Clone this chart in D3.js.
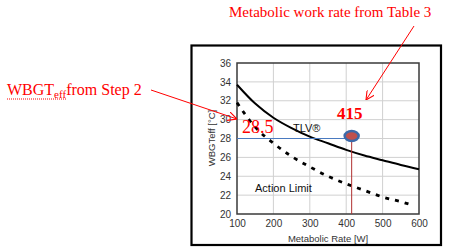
<!DOCTYPE html>
<html lang="en">
<head>
<meta charset="UTF-8">
<title>WBGT chart</title>
<style>
  body { margin: 0; background: #fff; }
  svg { display: block; }
</style>
</head>
<body>
<div id="chart"></div>
<script src="https://d3js.org/d3.v7.min.js"></script>
<script>
// data
var tlvRate = [100, 150, 200, 250, 300, 350, 400, 450, 500, 550, 600];
var tlvTemp = [33.7, 31.7, 30.2, 29.1, 28.2, 27.5, 26.8, 26.2, 25.7, 25.2, 24.75];
var alRate = [100, 150, 200, 250, 300, 350, 400, 450, 500, 550, 585];
var alTemp = [31.8, 29.2, 27.5, 26.1, 25.0, 24.0, 23.2, 22.5, 21.8, 21.3, 20.9];
var xTicks = [100, 200, 300, 400, 500, 600];
var yTicks = [20, 22, 24, 26, 28, 30, 32, 34, 36];
var workRate = 415;
var wbgtEff = 28.5;
var wbgtLine = 28;

var W = 449, H = 250;
var plot = {left: 237, right: 419, top: 63, bottom: 214};

var svg = d3.select("#chart").append("svg")
    .attr("width", W).attr("height", H);

var x = d3.scaleLinear().domain([100, 600]).range([plot.left, plot.right]);
var y = d3.scaleLinear().domain([20, 36]).range([plot.bottom, plot.top]);

// outer frame
svg.append("rect")
    .attr("x", 191.5).attr("y", 45.5)
    .attr("width", 249.5).attr("height", 199.5)
    .attr("fill", "none").attr("stroke", "#000").attr("stroke-width", 2.2);

// grid
svg.append("g").selectAll("line").data(xTicks.slice(1, -1)).enter()
    .append("line")
    .attr("x1", d => x(d)).attr("x2", d => x(d))
    .attr("y1", plot.top).attr("y2", plot.bottom)
    .attr("stroke", "#d0d0d0");
svg.append("g").selectAll("line").data(yTicks.slice(1, -1)).enter()
    .append("line")
    .attr("x1", plot.left).attr("x2", plot.right)
    .attr("y1", d => y(d)).attr("y2", d => y(d))
    .attr("stroke", "#d0d0d0");

// axes
var xAxis = svg.append("g")
    .attr("transform", "translate(0," + plot.bottom + ")")
    .call(d3.axisBottom(x).tickValues(xTicks).tickSize(0).tickPadding(6));
var yAxis = svg.append("g")
    .attr("transform", "translate(" + plot.left + ",0)")
    .call(d3.axisLeft(y).tickValues(yTicks).tickSize(0).tickPadding(6));
[xAxis, yAxis].forEach(function (a) {
    a.select(".domain").remove();
    a.selectAll("text")
        .style("font-family", "Arial, 'Liberation Sans', sans-serif")
        .style("font-size", "10px").attr("fill", "#333");
});

// plot border
svg.append("rect")
    .attr("x", plot.left).attr("y", plot.top)
    .attr("width", plot.right - plot.left).attr("height", plot.bottom - plot.top)
    .attr("fill", "none").attr("stroke", "#3a3a3a").attr("stroke-width", 1.5);

// axis titles
svg.append("text")
    .attr("x", (plot.left + plot.right) / 2).attr("y", 242)
    .attr("text-anchor", "middle")
    .style("font-family", "Arial, 'Liberation Sans', sans-serif")
    .style("font-size", "9.5px").attr("fill", "#333")
    .text("Metabolic Rate [W]");
svg.append("text")
    .attr("transform", "translate(215,138) rotate(-90)")
    .attr("text-anchor", "middle")
    .style("font-family", "Arial, 'Liberation Sans', sans-serif")
    .style("font-size", "9.5px").attr("fill", "#333")
    .text("WBGTeff [°C]");

// curves
var line = d3.line().curve(d3.curveMonotoneX)
    .x(d => x(d[0])).y(d => y(d[1]));

svg.append("path")
    .datum(d3.zip(tlvRate, tlvTemp))
    .attr("d", line)
    .attr("fill", "none").attr("stroke", "#000").attr("stroke-width", 2);

svg.append("path")
    .datum(d3.zip(alRate, alTemp))
    .attr("d", line)
    .attr("fill", "none").attr("stroke", "#000").attr("stroke-width", 2.8)
    .attr("stroke-dasharray", "4,6");

// curve labels
svg.append("text")
    .attr("x", 293).attr("y", 132)
    .style("font-family", "Arial, 'Liberation Sans', sans-serif")
    .style("font-size", "11px").attr("fill", "#111")
    .text("TLV®");
svg.append("text")
    .attr("x", 255).attr("y", 192)
    .style("font-family", "Arial, 'Liberation Sans', sans-serif")
    .style("font-size", "11px").attr("fill", "#111")
    .text("Action Limit");

// reading lines
svg.append("line")
    .attr("x1", plot.left).attr("x2", x(workRate))
    .attr("y1", y(wbgtLine)).attr("y2", y(wbgtLine))
    .attr("stroke", "#4a7ac0").attr("stroke-width", 1);
svg.append("line")
    .attr("x1", x(workRate)).attr("x2", x(workRate))
    .attr("y1", y(wbgtLine)).attr("y2", plot.bottom)
    .attr("stroke", "#b03030").attr("stroke-width", 1);

// marker
svg.append("ellipse")
    .attr("cx", x(workRate)).attr("cy", y(wbgtLine) - 2.5)
    .attr("rx", 7).attr("ry", 5)
    .attr("fill", "#c0504d").attr("stroke", "#3d69a8").attr("stroke-width", 2.5);

// red value labels
var serif = "'Liberation Serif', 'Times New Roman', serif";
svg.append("text")
    .attr("x", x(workRate) - 2).attr("y", 119)
    .attr("text-anchor", "middle")
    .style("font-family", serif)
    .style("font-size", "17px").style("font-weight", "bold").attr("fill", "#f00")
    .text(workRate);
svg.append("text")
    .attr("x", 242).attr("y", 133)
    .style("font-family", serif)
    .style("font-size", "18px").attr("fill", "#f00")
    .text(wbgtEff);

// annotations
svg.append("text")
    .attr("x", 229).attr("y", 17)
    .style("font-family", serif).style("font-size", "15px").attr("fill", "#f00")
    .text("Metabolic work rate from Table 3");

var t = svg.append("text")
    .attr("x", 7).attr("y", 95)
    .style("font-family", serif).style("font-size", "16px").attr("fill", "#f00");
t.append("tspan").text("WBGT");
t.append("tspan").attr("dy", 3).style("font-size", "11px").text("eff");
t.append("tspan").attr("dy", -3).text("from Step 2");

svg.append("line")
    .attr("x1", 7).attr("x2", 67).attr("y1", 99).attr("y2", 99)
    .attr("stroke", "#f00").attr("stroke-width", 1).attr("stroke-dasharray", "1,1");

// arrows
svg.append("defs").append("marker")
    .attr("id", "arr").attr("viewBox", "0 0 10 10")
    .attr("refX", 10).attr("refY", 5)
    .attr("markerWidth", 9).attr("markerHeight", 9)
    .attr("markerUnits", "userSpaceOnUse")
    .attr("orient", "auto")
    .append("path").attr("d", "M0,0 L10,5 L0,10")
    .attr("fill", "none").attr("stroke", "#f00").attr("stroke-width", 1.2);

svg.append("line")
    .attr("x1", 151).attr("y1", 90).attr("x2", 237).attr("y2", 119)
    .attr("stroke", "#f00").attr("stroke-width", 1).attr("marker-end", "url(#arr)");
svg.append("line")
    .attr("x1", 414).attr("y1", 26).attr("x2", 366).attr("y2", 100)
    .attr("stroke", "#f00").attr("stroke-width", 1).attr("marker-end", "url(#arr)");
</script>
</body>
</html>
